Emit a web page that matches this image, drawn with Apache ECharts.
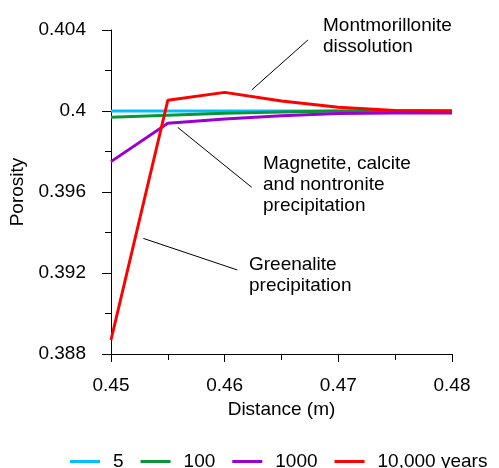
<!DOCTYPE html>
<html lang="en">
<head>
    <meta charset="utf-8"/>
    <title>Porosity</title>
    <script src="https://cdn.jsdelivr.net/npm/echarts@6/dist/echarts.min.js"></script>
</head>
<body style="margin: 0;">
<div id="chart" style="width: 499px;height: 468px;"></div>

<script type="text/javascript">
    // distance (m) and porosity for each time
    var distance = [0.45, 0.455, 0.46, 0.465, 0.47, 0.475, 0.48];
    var por5 = [0.4, 0.4, 0.4, 0.4, 0.4, 0.4, 0.4];
    var por100 = [0.39969, 0.39979, 0.39989, 0.39995, 0.4, 0.4, 0.4];
    var por1000 = [0.3975, 0.39939, 0.3996, 0.39977, 0.39988, 0.3999, 0.3999];
    var por10000 = [0.38869, 0.40053, 0.40092, 0.40049, 0.40018, 0.40002, 0.4];
    var names = ['5', '100', '1000', '10,000 years'];
    var colors = ['#00c0ff', '#0a9637', '#9a00d0', '#ff0000'];

    // leader lines for the notes [x1, y1, x2, y2]
    var leaders = [
        [0.46238, 0.40104, 0.46733, 0.40351],
        [0.45587, 0.39919, 0.46238, 0.39623],
        [0.45284, 0.39371, 0.46111, 0.39215]
    ];

    var font = 'Liberation Sans, Arial, sans-serif';
    var chart = echarts.init(document.getElementById('chart'));

    function pairs(ys) {
        return distance.map(function (x, i) {
            return [x, ys[i]];
        });
    }

    var allData = [por5, por100, por1000, por10000];
    var series = allData.map(function (ys, i) {
        return {
            name: names[i],
            type: 'line',
            data: pairs(ys),
            symbol: 'none',
            lineStyle: {width: 3, color: colors[i]},
            itemStyle: {color: colors[i]}
        };
    });

    series[3].markLine = {
        silent: true,
        symbol: 'none',
        label: {show: false},
        lineStyle: {color: '#000', width: 1, type: 'solid'},
        data: leaders.map(function (l) {
            return [{coord: [l[0], l[1]]}, {coord: [l[2], l[3]]}];
        })
    };

    var noteStyle = {fill: '#000', fontSize: 19, fontFamily: font, lineHeight: 21};

    chart.setOption({
        animation: false,
        textStyle: {fontFamily: font},
        grid: {left: 111, right: 47, top: 30, bottom: 114},
        xAxis: {
            type: 'value',
            min: 0.45,
            max: 0.48,
            interval: 0.01,
            name: 'Distance (m)',
            nameLocation: 'middle',
            nameGap: 44,
            nameTextStyle: {color: '#000', fontSize: 19},
            axisLine: {lineStyle: {color: '#000', width: 1}},
            axisTick: {show: true, length: 8, lineStyle: {color: '#000'}},
            minorTick: {show: true, splitNumber: 2, length: 6, lineStyle: {color: '#000'}},
            splitLine: {show: false},
            axisLabel: {
                color: '#000', fontSize: 19, margin: 22,
                formatter: function (v) { return (+v.toFixed(3)) + ''; }
            }
        },
        yAxis: {
            type: 'value',
            min: 0.388,
            max: 0.404,
            interval: 0.004,
            name: 'Porosity',
            nameLocation: 'middle',
            nameRotate: 90,
            nameGap: 82,
            nameTextStyle: {color: '#000', fontSize: 19},
            axisLine: {show: true, lineStyle: {color: '#000', width: 1}},
            axisTick: {show: true, length: 9, lineStyle: {color: '#000'}},
            minorTick: {show: true, splitNumber: 2, length: 6, lineStyle: {color: '#000'}},
            splitLine: {show: false},
            axisLabel: {
                color: '#000', fontSize: 19, margin: 25,
                formatter: function (v) { return (+v.toFixed(3)) + ''; }
            }
        },
        legend: {
            data: names,
            left: 65,
            top: 447,
            icon: 'rect',
            itemWidth: 30,
            itemHeight: 3,
            itemGap: 17,
            textStyle: {color: '#000', fontSize: 19, padding: [0, 0, 0, 8]}
        },
        graphic: [
            {type: 'text', left: 323, top: 15, style: Object.assign({text: 'Montmorillonite\ndissolution'}, noteStyle)},
            {type: 'text', left: 263, top: 153, style: Object.assign({text: 'Magnetite, calcite\nand nontronite\nprecipitation'}, noteStyle)},
            {type: 'text', left: 249, top: 254, style: Object.assign({text: 'Greenalite\nprecipitation'}, noteStyle)}
        ],
        series: series
    });
</script>
</body>
</html>
